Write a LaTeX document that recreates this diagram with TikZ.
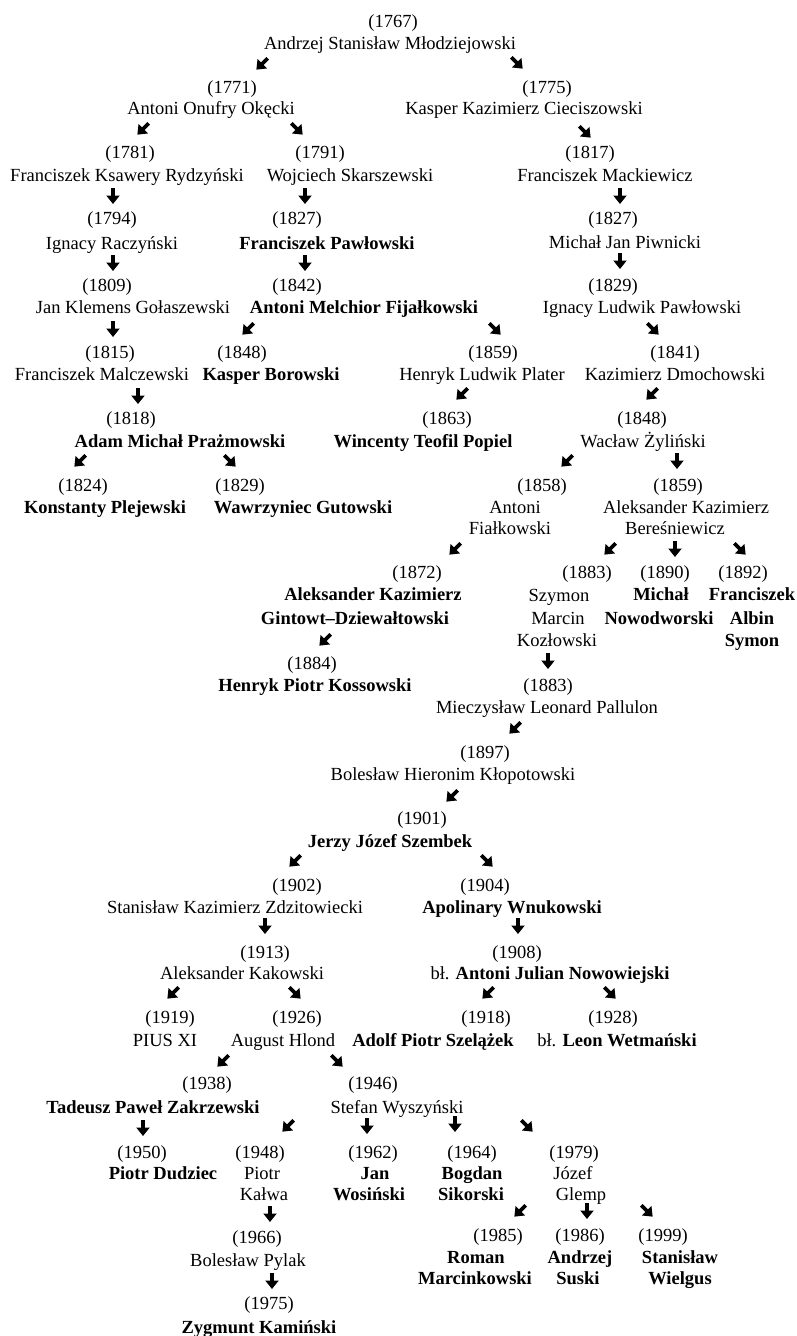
\documentclass[tikz,border=0pt]{standalone}
\usepackage{fontspec}
\setmainfont{Liberation Serif}
\usetikzlibrary{arrows.meta,calc}
\newcommand{\tx}[5]{\node[#1] (#2) at (#3pt,-#4pt) {#5};}
\newcommand{\arw}[4]{\coordinate (#1) at (#2pt,-#3pt);
  \draw[arw] ($(#1)+(#4:-8pt)$) -- ($(#1)+(#4:8pt)$);}
\begin{document}
\begin{tikzpicture}[
  rg/.style={font=\fontsize{18.5}{21}\selectfont, inner sep=0pt, anchor=base, yshift=-6pt, text=black},
  bd/.style={rg, font=\fontsize{18.5}{21}\selectfont\bfseries},
  arw/.style={line width=3.8pt, -{Triangle[length=8.5pt,width=13pt]}, black}
]
\useasboundingbox[fill=white] (0pt,0pt) rectangle (796pt,-1336pt);
% row A
\tx{rg}{d1767}{393}{21}{(1767)}
\tx{rg}{n1767}{390}{43}{Andrzej Stanisław Młodziejowski}
\arw{a1}{262}{64}{-135}
\arw{a2}{517}{63}{-45}
% row B
\tx{rg}{d1771}{232}{87}{(1771)}
\tx{rg}{n1771}{211}{108}{Antoni Onufry Okęcki}
\tx{rg}{d1775}{547}{87}{(1775)}
\tx{rg}{n1775}{524}{108}{Kasper Kazimierz Cieciszowski}
\arw{a3}{143}{129}{-135}
\arw{a4}{297}{129}{-45}
\arw{a5}{585}{132}{-45}
% row C
\tx{rg}{d1781}{130}{152}{(1781)}
\tx{rg}{n1781}{127}{175}{Franciszek Ksawery Rydzyński}
\tx{rg}{d1791}{320}{152}{(1791)}
\tx{rg}{n1791}{350}{175}{Wojciech Skarszewski}
\tx{rg}{d1817}{590}{152}{(1817)}
\tx{rg}{n1817}{605}{175}{Franciszek Mackiewicz}
\arw{a6}{113}{196}{-90}
\arw{a7}{305}{196}{-90}
\arw{a8}{620}{196}{-90}
% row D
\tx{rg}{d1794}{112}{218}{(1794)}
\tx{rg}{n1794}{112}{243}{Ignacy Raczyński}
\tx{rg}{d1827a}{297}{218}{(1827)}
\tx{bd}{n1827a}{327}{243}{Franciszek Pawłowski}
\tx{rg}{d1827b}{613}{218}{(1827)}
\tx{rg}{n1827b}{625}{242}{Michał Jan Piwnicki}
\arw{a9}{113}{263}{-90}
\arw{a10}{305}{263}{-90}
\arw{a11}{620}{261}{-90}
% row E
\tx{rg}{d1809}{107}{285}{(1809)}
\tx{rg}{n1809}{133}{307}{Jan Klemens Gołaszewski}
\tx{rg}{d1842}{297}{285}{(1842)}
\tx{bd}{n1842}{364}{307}{Antoni Melchior Fijałkowski}
\tx{rg}{d1829a}{613}{285}{(1829)}
\tx{rg}{n1829a}{642}{307}{Ignacy Ludwik Pawłowski}
\arw{a12}{113}{329}{-90}
\arw{a13}{248}{329}{-135}
\arw{a14}{495}{329}{-45}
\arw{a15}{653}{329}{-45}
% row F
\tx{rg}{d1815}{110}{352}{(1815)}
\tx{rg}{n1815}{102}{374}{Franciszek Malczewski}
\tx{rg}{d1848a}{242}{352}{(1848)}
\tx{bd}{n1848a}{271}{374}{Kasper Borowski}
\tx{rg}{d1859a}{493}{352}{(1859)}
\tx{rg}{n1859a}{482}{374}{Henryk Ludwik Plater}
\tx{rg}{d1841}{675}{352}{(1841)}
\tx{rg}{n1841}{675}{374}{Kazimierz Dmochowski}
\arw{a16}{138}{396}{-90}
\arw{a17}{462}{394}{-135}
\arw{a18}{652}{394}{-135}
% row G
\tx{rg}{d1818}{131}{418}{(1818)}
\tx{bd}{n1818}{180}{441}{Adam Michał Prażmowski}
\tx{rg}{d1863}{447}{418}{(1863)}
\tx{bd}{n1863}{423}{441}{Wincenty Teofil Popiel}
\tx{rg}{d1848b}{642}{418}{(1848)}
\tx{rg}{n1848b}{643}{441}{Wacław Żyliński}
\arw{a19}{80}{461}{-135}
\arw{a20}{230}{461}{-45}
\arw{a21}{567}{461}{-135}
\arw{a22}{677}{461}{-90}
% row H
\tx{rg}{d1824}{83}{485}{(1824)}
\tx{bd}{n1824}{105}{507}{Konstanty Plejewski}
\tx{rg}{d1829b}{240}{485}{(1829)}
\tx{bd}{n1829b}{303}{507}{Wawrzyniec Gutowski}
\tx{rg}{d1858}{542}{485}{(1858)}
\tx{rg}{n1858a}{515}{507}{Antoni}
\tx{rg}{n1858b}{510}{528}{Fiałkowski}
\tx{rg}{d1859b}{678}{485}{(1859)}
\tx{rg}{n1859ba}{686}{507}{Aleksander Kazimierz}
\tx{rg}{n1859bb}{675}{528}{Bereśniewicz}
\arw{a23}{455}{549}{-135}
\arw{a24}{610}{549}{-135}
\arw{a25}{675}{549}{-90}
\arw{a26}{740}{549}{-45}
% row I
\tx{rg}{d1872}{417}{572}{(1872)}
\tx{bd}{n1872a}{373}{594}{Aleksander Kazimierz}
\tx{bd}{n1872b}{355}{618}{Gintowt–Dziewałtowski}
\tx{rg}{d1883a}{587}{572}{(1883)}
\tx{rg}{n1883aa}{559}{595}{Szymon}
\tx{rg}{n1883ab}{558}{618}{Marcin}
\tx{rg}{n1883ac}{557}{640}{Kozłowski}
\tx{rg}{d1890}{665}{572}{(1890)}
\tx{bd}{n1890a}{661}{594}{Michał}
\tx{bd}{n1890b}{659}{618}{Nowodworski}
\tx{rg}{d1892}{743}{572}{(1892)}
\tx{bd}{n1892a}{752}{594}{Franciszek}
\tx{bd}{n1892b}{752}{618}{Albin}
\tx{bd}{n1892c}{752}{640}{Symon}
\arw{a27}{325}{640}{-135}
\arw{a28}{548}{661}{-90}
% row J
\tx{rg}{d1884}{312}{663}{(1884)}
\tx{bd}{n1884}{315}{685}{Henryk Piotr Kossowski}
\tx{rg}{d1883b}{548}{685}{(1883)}
\tx{rg}{n1883b}{547}{707}{Mieczysław Leonard Pallulon}
\arw{a29}{515}{728}{-135}
\tx{rg}{d1897}{485}{752}{(1897)}
\tx{rg}{n1897}{453}{774}{Bolesław Hieronim Kłopotowski}
\arw{a30}{452}{796}{-135}
\tx{rg}{d1901}{422}{818}{(1901)}
\tx{bd}{n1901}{390}{841}{Jerzy Józef Szembek}
\arw{a31}{295}{861}{-135}
\arw{a32}{487}{861}{-45}
\tx{rg}{d1902}{297}{885}{(1902)}
\tx{rg}{n1902}{235}{907}{Stanisław Kazimierz Zdzitowiecki}
\tx{rg}{d1904}{485}{885}{(1904)}
\tx{bd}{n1904}{512}{907}{Apolinary Wnukowski}
\arw{a33}{265}{926}{-90}
\arw{a34}{518}{926}{-90}
\tx{rg}{d1913}{265}{952}{(1913)}
\tx{rg}{n1913}{242}{973}{Aleksander Kakowski}
\tx{rg}{d1908}{517}{952}{(1908)}
\tx{rg}{n1908}{550}{973}{bł. \textbf{Antoni Julian Nowowiejski}}
\arw{a35}{173}{993}{-135}
\arw{a36}{295}{993}{-45}
\arw{a37}{488}{993}{-135}
\arw{a38}{610}{993}{-45}
\tx{rg}{d1919}{170}{1017}{(1919)}
\tx{rg}{n1919}{165}{1040}{PIUS XI}
\tx{rg}{d1926}{297}{1017}{(1926)}
\tx{rg}{n1926}{283}{1040}{August Hlond}
\tx{rg}{d1918}{486}{1017}{(1918)}
\tx{bd}{n1918}{433}{1040}{Adolf Piotr Szelążek}
\tx{rg}{d1928}{613}{1017}{(1928)}
\tx{rg}{n1928}{617}{1040}{bł. \textbf{Leon Wetmański}}
\arw{a39}{223}{1061}{-135}
\arw{a40}{337}{1061}{-45}
\tx{rg}{d1938}{207}{1083}{(1938)}
\tx{bd}{n1938}{153}{1107}{Tadeusz Paweł Zakrzewski}
\tx{rg}{d1946}{373}{1083}{(1946)}
\tx{rg}{n1946}{397}{1107}{Stefan Wyszyński}
\arw{a41}{143}{1128}{-90}
\arw{a42}{288}{1126}{-135}
\arw{a43}{367}{1126}{-90}
\arw{a44}{455}{1124}{-90}
\arw{a45}{527}{1126}{-45}
\tx{rg}{d1950}{142}{1152}{(1950)}
\tx{bd}{n1950}{163}{1173}{Piotr Dudziec}
\tx{rg}{d1948}{260}{1152}{(1948)}
\tx{rg}{n1948a}{262}{1173}{Piotr}
\tx{rg}{n1948b}{264}{1194}{Kałwa}
\tx{rg}{d1962}{373}{1152}{(1962)}
\tx{bd}{n1962a}{375}{1173}{Jan}
\tx{bd}{n1962b}{369}{1194}{Wosiński}
\tx{rg}{d1964}{472}{1152}{(1964)}
\tx{bd}{n1964a}{472}{1173}{Bogdan}
\tx{bd}{n1964b}{471}{1194}{Sikorski}
\tx{rg}{d1979}{574}{1152}{(1979)}
\tx{rg}{n1979a}{573}{1173}{Józef}
\tx{rg}{n1979b}{581}{1194}{Glemp}
\arw{a46}{270}{1214}{-90}
\arw{a47}{520}{1211}{-135}
\arw{a48}{587}{1211}{-90}
\arw{a49}{647}{1211}{-45}
\tx{rg}{d1966}{257}{1237}{(1966)}
\tx{rg}{n1966}{248}{1260}{Bolesław Pylak}
\tx{rg}{d1985}{498}{1235}{(1985)}
\tx{bd}{n1985a}{476}{1257}{Roman}
\tx{bd}{n1985b}{475}{1278}{Marcinkowski}
\tx{rg}{d1986}{580}{1235}{(1986)}
\tx{bd}{n1986a}{580}{1257}{Andrzej}
\tx{bd}{n1986b}{578}{1278}{Suski}
\tx{rg}{d1999}{663}{1235}{(1999)}
\tx{bd}{n1999a}{680}{1257}{Stanisław}
\tx{bd}{n1999b}{680}{1278}{Wielgus}
\arw{a50}{272}{1281}{-90}
\tx{rg}{d1975}{269}{1303}{(1975)}
\tx{bd}{n1975}{259}{1327}{Zygmunt Kamiński}
\end{tikzpicture}
\end{document}
